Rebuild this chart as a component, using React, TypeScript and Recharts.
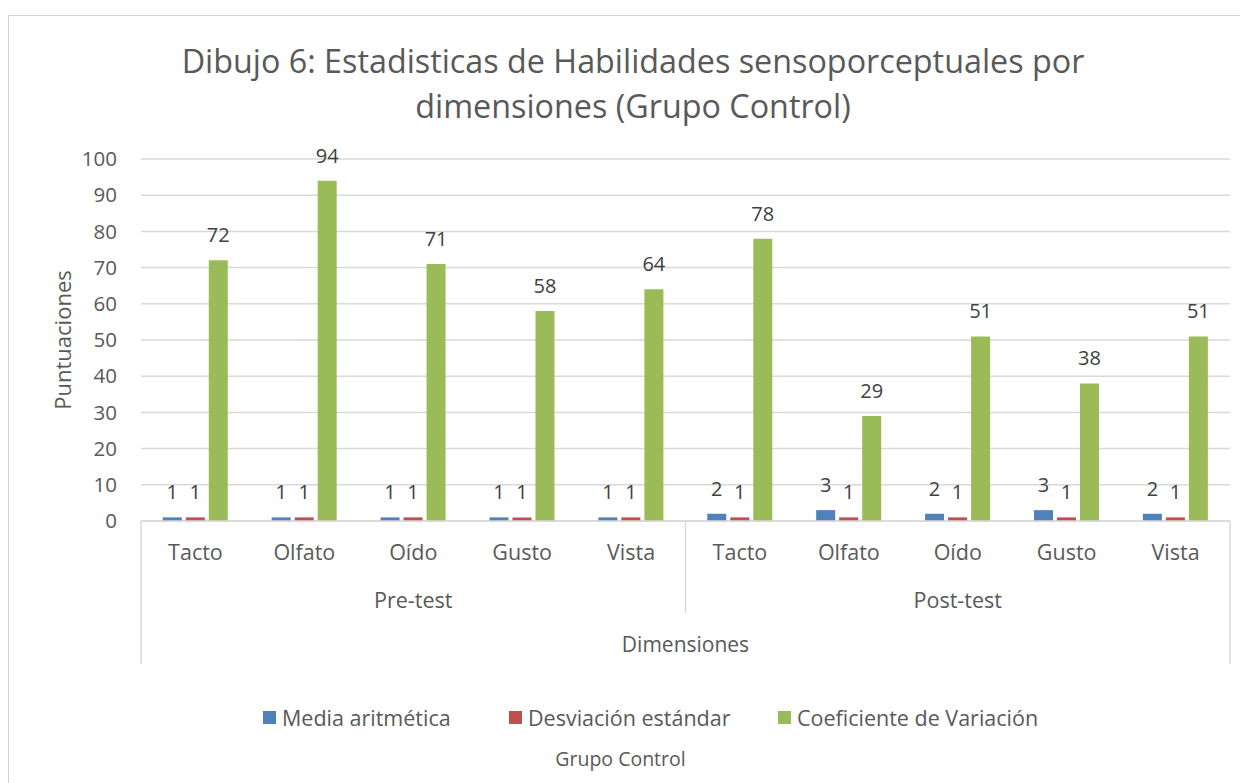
import React from 'react';
import { BarChart, Bar, XAxis, YAxis, CartesianGrid, LabelList } from 'recharts';

const CATEGORIES = ['Tacto', 'Olfato', 'Oído', 'Gusto', 'Vista', 'Tacto', 'Olfato', 'Oído', 'Gusto', 'Vista'];
const GROUPS = ['Pre-test', 'Post-test'];
const MEDIA = [1, 1, 1, 1, 1, 2, 3, 2, 3, 2];
const DESVIACION = [1, 1, 1, 1, 1, 1, 1, 1, 1, 1];
const COEFICIENTE = [72, 94, 71, 58, 64, 78, 29, 51, 38, 51];
const SERIES_NAMES = ['Media aritmética', 'Desviación estándar', 'Coeficiente de Variación'];
const COLORS = ['#4f81bd', '#c0504d', '#9bbb59'];
const Y_TICKS = [0, 10, 20, 30, 40, 50, 60, 70, 80, 90, 100];
const TITLE_LINES = ['Dibujo 6: Estadisticas de Habilidades sensoporceptuales por', 'dimensiones (Grupo Control)'];
const Y_TITLE = 'Puntuaciones';
const X_TITLE = 'Dimensiones';
const LEGEND_TITLE = 'Grupo Control';

const data = CATEGORIES.map((c, i) => ({
  key: i,
  cat: c,
  group: GROUPS[i < 5 ? 0 : 1],
  media: MEDIA[i],
  desv: DESVIACION[i],
  cv: COEFICIENTE[i],
}));

const W = 1240;
const H = 775;
const MARGIN = { top: 151, right: 18, left: 0, bottom: 112 };
const Y_AXIS_W = 133;
const PLOT_W = W - MARGIN.left - MARGIN.right - Y_AXIS_W;
const FONT = '"Open Sans", sans-serif';
const TEXT = '#595959';
const GRID = '#d9d9d9';

function XTick(props: any) {
  const { x, y, payload } = props;
  const i = Number(payload.value);
  const bw = PLOT_W / data.length;
  const groupSize = CATEGORIES.length / GROUPS.length;
  return (
    <g>
      <text x={x} y={y + 30} textAnchor="middle" dominantBaseline="central" fill={TEXT} fontSize={21.5} fontFamily={FONT}>
        {CATEGORIES[i]}
      </text>
      {i % groupSize === 2 && (
        <text x={x} y={y + 78} textAnchor="middle" dominantBaseline="central" fill={TEXT} fontSize={21.5} fontFamily={FONT}>
          {GROUPS[Math.floor(i / groupSize)]}
        </text>
      )}
      {i === 0 && <line x1={x - bw / 2} x2={x - bw / 2} y1={y} y2={y + 143} stroke={GRID} strokeWidth={1.5} />}
      {i === groupSize && <line x1={x - bw / 2} x2={x - bw / 2} y1={y} y2={y + 92} stroke={GRID} strokeWidth={1.5} />}
      {i === data.length - 1 && <line x1={x + bw / 2} x2={x + bw / 2} y1={y} y2={y + 143} stroke={GRID} strokeWidth={1.5} />}
      {i === groupSize - 1 && (
        <text x={x + bw / 2} y={y + 123} textAnchor="middle" dominantBaseline="central" fill={TEXT} fontSize={21} fontFamily={FONT}>
          {X_TITLE}
        </text>
      )}
    </g>
  );
}

function YTitle(props: any) {
  const vb = props.viewBox || {};
  const cx = (vb.x || 0) + 54;
  const cy = (vb.y || 0) + (vb.height || 0) / 2;
  return (
    <text x={cx} y={cy} transform={`rotate(-90 ${cx} ${cy})`} textAnchor="middle" dominantBaseline="central" fill={TEXT} fontSize={22} fontFamily={FONT}>
      {Y_TITLE}
    </text>
  );
}

const labelStyle = { fill: '#404040', fontSize: 20, fontFamily: FONT };

export default function App() {
  const legendLefts = [255, 501, 770];
  return (
    <div style={{ position: 'relative', width: W, height: H, overflow: 'hidden', background: '#fff', fontFamily: FONT }}>
      <div style={{ position: 'absolute', left: 0, top: 7, width: W + 50, height: H + 50, border: '1px solid #d4d4d4', boxSizing: 'border-box' }} />
      {TITLE_LINES.map((t, k) => (
        <div key={k} style={{ position: 'absolute', left: 0, width: W + 10, top: 52 + k * 45 - 24, height: 48, lineHeight: '48px', textAlign: 'center', fontSize: 32.3, color: TEXT, whiteSpace: 'nowrap' }}>
          {t}
        </div>
      ))}
      <div style={{ position: 'absolute', left: 0, top: 0 }}>
        <BarChart width={W} height={H} data={data} margin={MARGIN} barCategoryGap="20%" barGap={4}>
          <CartesianGrid vertical={false} stroke={GRID} strokeWidth={1.5} />
          <XAxis
            dataKey="key"
            type="category"
            axisLine={{ stroke: GRID, strokeWidth: 1.5 }}
            tickLine={false}
            tickSize={0}
            tickMargin={0}
            height={150}
            interval={0}
            tick={<XTick />}
          />
          <YAxis
            width={Y_AXIS_W}
            domain={[0, 100]}
            ticks={Y_TICKS}
            axisLine={false}
            tickLine={false}
            tickSize={0}
            tickMargin={24}
            tick={{ fill: TEXT, fontSize: 20.5, fontFamily: FONT }}
            label={<YTitle />}
          />
          <Bar dataKey="media" name={SERIES_NAMES[0]} fill={COLORS[0]} isAnimationActive={false}>
            <LabelList dataKey="media" position="top" offset={18} style={labelStyle} />
          </Bar>
          <Bar dataKey="desv" name={SERIES_NAMES[1]} fill={COLORS[1]} isAnimationActive={false}>
            <LabelList dataKey="desv" position="top" offset={18} style={labelStyle} />
          </Bar>
          <Bar dataKey="cv" name={SERIES_NAMES[2]} fill={COLORS[2]} isAnimationActive={false}>
            <LabelList dataKey="cv" position="top" offset={18} style={labelStyle} />
          </Bar>
        </BarChart>
      </div>
      {SERIES_NAMES.map((n, k) => (
        <div key={n} style={{ position: 'absolute', left: legendLefts[k], top: 709 - 15, height: 30, display: 'flex', alignItems: 'center', whiteSpace: 'nowrap' }}>
          <span style={{ display: 'inline-block', width: 13, height: 13, background: COLORS[k], marginRight: 6 }} />
          <span style={{ fontSize: 21.5, color: TEXT }}>{n}</span>
        </div>
      ))}
      <div style={{ position: 'absolute', left: 0, width: W - 15, top: 751 - 15, height: 30, lineHeight: '30px', textAlign: 'center', fontSize: 19.5, color: TEXT }}>
        {LEGEND_TITLE}
      </div>
    </div>
  );
}
